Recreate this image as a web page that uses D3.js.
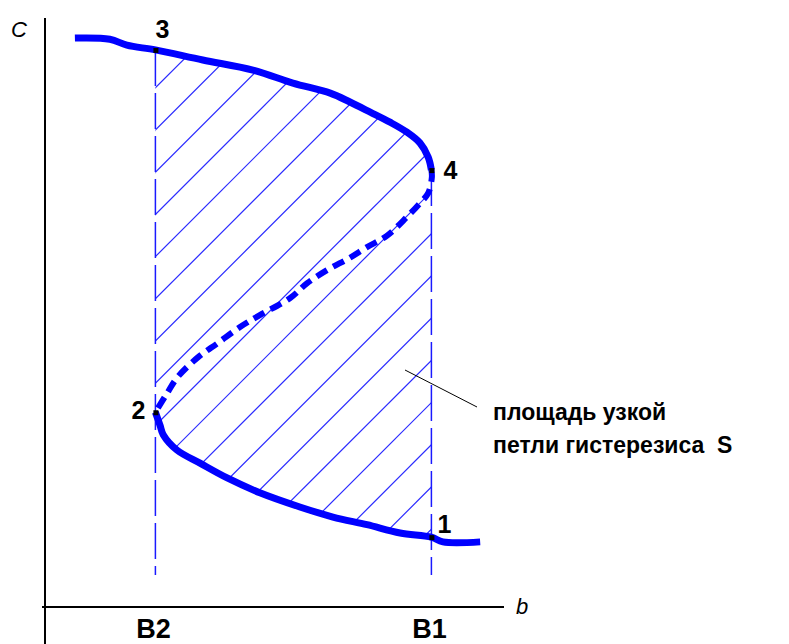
<!DOCTYPE html>
<html>
<head>
<meta charset="utf-8">
<script src="https://cdn.jsdelivr.net/npm/d3@7"></script>
<style>
  html, body { margin: 0; padding: 0; background: #fff; }
  svg { display: block; }
  text { font-family: "Liberation Sans", Arial, sans-serif; white-space: pre; }
</style>
</head>
<body>
<svg id="chart" width="789" height="644"></svg>
<script>
// Hysteresis loop: concentration C versus parameter b
// Upper stable branch (left end -> turning point 4)
const upperB = [6.5, 14.1, 17.8, 24.0, 34.3, 45.2, 53.9, 62.0, 66.3, 70.7, 75.0, 78.7, 81.5, 83.3, 84.0];
const upperC = [96.1, 95.9, 94.9, 94.1, 92.4, 90.7, 88.5, 86.8, 85.3, 83.6, 81.9, 80.2, 78.4, 76.0, 73.8];
// Unstable middle branch (turning point 4 -> turning point 2)
const middleB = [84.0, 84.1, 83.3, 81.5, 78.7, 74.3, 70.0, 66.3, 61.3, 57.0, 53.3, 46.7, 42.4, 37.6, 33.3, 28.9, 26.3, 24.0];
const middleC = [73.8, 72.6, 69.9, 68.2, 65.9, 62.7, 60.8, 59.0, 56.9, 54.7, 52.2, 49.3, 47.3, 44.6, 42.2, 38.9, 35.8, 32.9];
// Lower stable branch (turning point 2 -> right end)
const lowerB = [24.0, 25.0, 25.7, 28.7, 33.7, 39.6, 46.7, 55.4, 62.6, 70.0, 77.2, 84.0, 86.5, 94.6];
const lowerC = [32.9, 30.7, 29.1, 26.5, 24.3, 21.8, 19.3, 16.9, 15.2, 13.9, 12.5, 11.8, 11.0, 11.0];
// Switching thresholds on the b axis
const thresholdLabels = ["B2", "B1"];
const thresholdB = [24, 84];
const thresholdTopC = [94.1, 73.8];
const thresholdBottomC = 5.4;
// Numbered states on the loop
const pointLabels = ["1", "2", "3", "4"];
const pointB = [84, 24, 24, 84];
const pointC = [11.8, 32.9, 94.1, 73.8];
// Axis names and annotation
const axisXName = "b";
const axisYName = "C";
const noteLines = ["площадь узкой", "петли гистерезиса  S"];

const svg = d3.select("#chart");
const x = d3.scaleLinear().domain([0, 100]).range([45, 505]);
const y = d3.scaleLinear().domain([0, 100]).range([607, 15]);

const zip = (bs, cs) => bs.map((b, i) => [b, cs[i]]);
const upper = zip(upperB, upperC);
const middle = zip(middleB, middleC);
const lower = zip(lowerB, lowerC);

const line = d3.line().x(d => x(d[0])).y(d => y(d[1])).curve(d3.curveCatmullRom.alpha(0.5));

// Hatched region enclosed by the loop between B2 and B1
const region = upper.filter(d => d[0] >= thresholdB[0])
  .concat(lower.filter(d => d[0] <= thresholdB[1]).slice().reverse());
const defs = svg.append("defs");
defs.append("clipPath").attr("id", "loopClip")
  .append("path")
  .attr("d", d3.line().x(d => x(d[0])).y(d => y(d[1])).curve(d3.curveLinearClosed)(region));

const hatch = svg.append("g").attr("clip-path", "url(#loopClip)");
const x0 = x(thresholdB[0]), x1 = x(thresholdB[1]);
const yTop = y(100), yBot = y(0);
const step = 42.2, phase = 623;
for (let k = Math.floor((x0 + yTop - phase) / step) - 1; k <= Math.ceil((x1 + yBot - phase) / step) + 1; k++) {
  const s = phase + k * step; // lines of constant x + y
  hatch.append("line")
    .attr("x1", x0 - 5).attr("y1", s - (x0 - 5))
    .attr("x2", x1 + 5).attr("y2", s - (x1 + 5))
    .attr("stroke", "#2a2aff").attr("stroke-width", 1.2);
}

// Dashed threshold lines
thresholdB.forEach((b, i) => {
  svg.append("line")
    .attr("x1", x(b)).attr("x2", x(b))
    .attr("y1", y(thresholdTopC[i])).attr("y2", y(thresholdBottomC))
    .attr("stroke", "#1a1aff").attr("stroke-width", 1.5)
    .attr("stroke-dasharray", "36,7");
});

// Axes
svg.append("line").attr("x1", x(0)).attr("x2", x(0)).attr("y1", 18).attr("y2", 644)
  .attr("stroke", "#000").attr("stroke-width", 2);
svg.append("line").attr("x1", x(0) - 3).attr("x2", 504).attr("y1", y(0)).attr("y2", y(0))
  .attr("stroke", "#000").attr("stroke-width", 2);
svg.append("text").attr("x", 516).attr("y", 614)
  .attr("font-size", 22).attr("font-style", "italic").text(axisXName);
svg.append("text").attr("x", 11).attr("y", 37)
  .attr("font-size", 22).attr("font-style", "italic").text(axisYName);

thresholdB.forEach((b, i) => {
  svg.append("text").attr("x", x(b) - 2).attr("y", 638)
    .attr("text-anchor", "middle").attr("font-size", 27).attr("font-weight", "bold")
    .text(thresholdLabels[i]);
});

// Loop branches
svg.append("path").attr("d", line(upper)).attr("fill", "none")
  .attr("stroke", "#0000ff").attr("stroke-width", 7).attr("stroke-linejoin", "round");
svg.append("path").attr("d", line(lower)).attr("fill", "none")
  .attr("stroke", "#0000ff").attr("stroke-width", 7).attr("stroke-linejoin", "round");
svg.append("path").attr("d", line(middle)).attr("fill", "none")
  .attr("stroke", "#0000ff").attr("stroke-width", 6)
  .attr("stroke-dasharray", "12,7");

// State markers and numbers
const labelOffset = [[6, -4], [-24, 7], [0, -12], [12, 9]];
pointLabels.forEach((lab, i) => {
  const px = x(pointB[i]), py = y(pointC[i]);
  svg.append("rect").attr("x", px - 2).attr("y", py - 2).attr("width", 5).attr("height", 5).attr("fill", "#000");
  svg.append("text").attr("x", px + labelOffset[i][0]).attr("y", py + labelOffset[i][1])
    .attr("font-size", 25).attr("font-weight", "bold").text(lab);
});

// Annotation leader and caption
svg.append("line").attr("x1", 405).attr("y1", 370).attr("x2", 477).attr("y2", 407)
  .attr("stroke", "#000").attr("stroke-width", 1);
noteLines.forEach((t, i) => {
  svg.append("text").attr("x", 493).attr("y", 420 + i * 33)
    .attr("font-size", 23).attr("font-weight", "bold").text(t);
});
</script>
</body>
</html>
